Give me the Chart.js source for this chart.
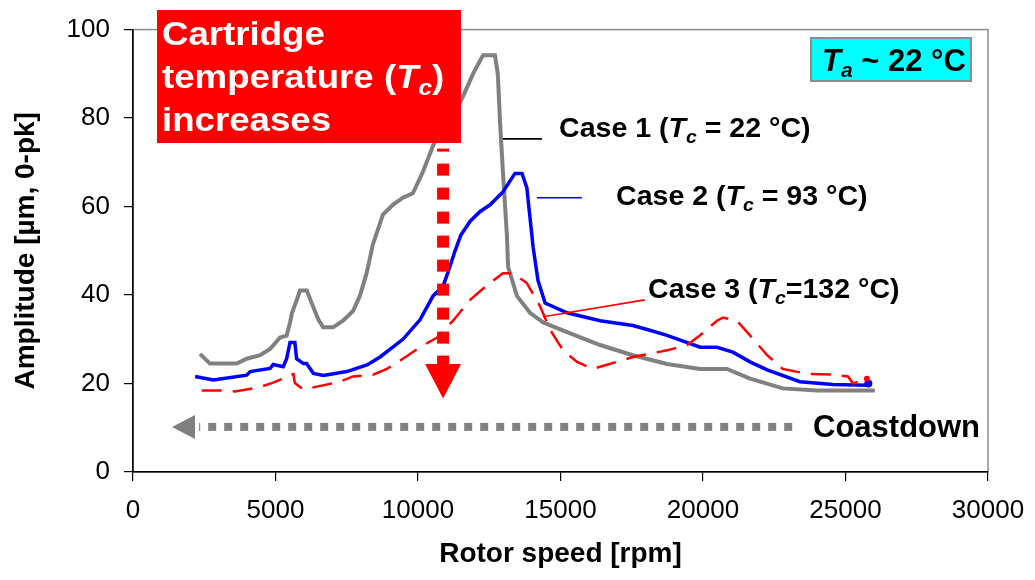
<!DOCTYPE html>
<html>
<head>
<meta charset="utf-8">
<script src="https://cdn.jsdelivr.net/npm/chart.js@4/dist/chart.umd.min.js"></script>
<style>
  html, body { margin: 0; padding: 0; background: #fff; }
  #wrap { width: 1035px; height: 580px; position: relative; }
</style>
</head>
<body>
<div id="wrap"><canvas id="ampChart"></canvas></div>
<script>
/* Rotor coastdown amplitude vs speed, three cartridge temperatures */

const FONT = '"Liberation Sans", Arial, Helvetica, sans-serif';

const xTicks = [0, 5000, 10000, 15000, 20000, 25000, 30000];
const yTicks = [0, 20, 40, 60, 80, 100];

// Case 1 (Tc = 22 °C)
const case1Speed = [2350, 2700, 3640, 3990, 4460, 4810, 5160, 5390, 5510, 5580, 5750, 5860, 6100, 6280, 6500, 6670,
  7020, 7370, 7720, 7960, 8200, 8420, 8770, 9120, 9470, 9820, 10170, 10530, 10770, 11230, 11580, 11930,
  12280, 12700, 12800, 12880, 12980, 13120, 13160, 13470, 13930, 14390, 15230, 16390, 17540, 18740,
  19900, 20840, 21650, 22800, 24000, 25160, 26030];
const case1Amp = [26.7, 24.5, 24.5, 25.6, 26.4, 27.8, 30.4, 30.8, 33.8, 36, 39, 41, 41, 38, 34.5, 32.7,
  32.7, 34.2, 36.4, 39.8, 45, 51.5, 58.2, 60.4, 62, 63, 67.8, 73.8, 76.7, 80.4, 84.9, 90,
  94.2, 94.2, 90, 78.9, 67.8, 53.5, 46.4, 39.8, 36, 33.8, 31.6, 28.7, 26.4, 24.4,
  23.3, 23.3, 21.1, 18.9, 18.4, 18.4, 18.4];

// Case 2 (Tc = 93 °C)
const case2Speed = [2180, 2820, 3990, 4110, 4810, 4920, 5270, 5390, 5510, 5680, 5740, 5980, 6090, 6330, 6680,
  7500, 8210, 8670, 9470, 10070, 10530, 10880, 11120, 11300, 11500, 11830, 12180, 12530, 12980, 13400,
  13650, 13820, 13930, 14040, 14210, 14460, 15230, 16390, 17540, 18040, 18740, 19900, 20490, 21050,
  21650, 22250, 23400, 24560, 25750, 25800];
const case2Amp = [21.6, 20.8, 21.9, 22.7, 23.4, 24.3, 23.8, 25.6, 29.3, 29.3, 25.6, 24.5, 24.5, 22.3, 21.8,
  22.7, 24.2, 26, 30, 34.4, 39.8, 42, 46.4, 50, 53.5, 56.7, 58.9, 60.4, 63.3, 67.5,
  67.5, 64.2, 57.5, 50.8, 43.3, 38.2, 36, 34.2, 33.1, 32.2, 30.9, 28.2, 28.2, 27.1,
  24.9, 23.1, 20.4, 19.8, 19.6, 20];

// Case 3 (Tc = 132 °C)
const case3Speed = [2410, 3110, 3580, 4460, 4870, 5160, 5390, 5630, 5680, 5980, 6450, 7260, 7720, 8420, 8910,
  9470, 10070, 10670, 11230, 11830, 12420, 12980, 13330, 13820, 14280, 14630, 15090, 15580, 16140,
  16980, 17540, 18740, 19440, 19900, 20490, 20700, 21190, 21650, 22250, 22800, 23650, 24560, 25090,
  25260, 25750];
const case3Amp = [18.4, 18.4, 18.2, 19.2, 20.1, 20.8, 21.9, 22.1, 20.1, 18.6, 19.3, 20.4, 21.6, 22, 23.3,
  25.6, 28.2, 30.4, 34.2, 38.9, 42.2, 44.9, 44.9, 42.7, 37.5, 32.2, 27.5, 24.9, 23.3,
  24.9, 26, 27.5, 28.7, 30.9, 34.2, 34.9, 34.2, 30.9, 26.4, 23.3, 22.2, 22, 21.6,
  20, 21.1];

const toPoints = (xs, ys) => xs.map((x, i) => ({ x: x, y: ys[i] }));
const endDot = (n, r) => ctx => ctx.dataIndex === n - 1 ? r : 0;

// mixed-style text: runs of { t, it (italic), sub (subscript) }
function drawRuns(ctx, x, y, runs, size, sx) {
    ctx.save();
    ctx.translate(x, y);
    ctx.scale(sx || 1, 1);
    ctx.textAlign = 'left';
    ctx.textBaseline = 'alphabetic';
    let cx = 0;
    runs.forEach(r => {
        const fs = r.sub ? Math.round(size * 0.68) : size;
        ctx.font = (r.it ? 'italic ' : '') + 'bold ' + fs + 'px ' + FONT;
        ctx.fillText(r.t, cx, r.sub ? size * 0.2 : 0);
        cx += ctx.measureText(r.t).width;
    });
    ctx.restore();
}

function line(ctx, x1, y1, x2, y2, color, w) {
    ctx.beginPath();
    ctx.strokeStyle = color;
    ctx.lineWidth = w;
    ctx.moveTo(x1, y1);
    ctx.lineTo(x2, y2);
    ctx.stroke();
}

const frame = {
    id: 'frame',
    beforeDraw(chart) {
        const { ctx, chartArea: a } = chart;
        ctx.save();
        ctx.fillStyle = '#fff';
        ctx.fillRect(0, 0, chart.width, chart.height);
        ctx.strokeStyle = '#8c8c8c';
        ctx.lineWidth = 1.5;
        ctx.strokeRect(a.left, a.top, a.right - a.left, a.bottom - a.top);
        ctx.restore();
    }
};

const notes = {
    id: 'notes',
    afterDatasetsDraw(chart) {
        const ctx = chart.ctx;
        const X = v => chart.scales.x.getPixelForValue(v);
        const Y = v => chart.scales.y.getPixelForValue(v);
        ctx.save();

        // leader lines to the case labels
        line(ctx, X(12980), Y(75.3), X(14350), Y(75.3), '#000', 1.6);
        line(ctx, X(14170), Y(62), X(15750), Y(62), '#0000ff', 1.6);
        line(ctx, X(14390), Y(35.1), X(17960), Y(38.9), '#ff0000', 1.6);

        // "temperature increases" arrow
        const ax = X(10880);
        ctx.save();
        ctx.setLineDash([12, 12]);
        ctx.lineDashOffset = 9;
        line(ctx, ax, Y(73.1), ax, Y(24.4), '#ff0000', 12);
        ctx.restore();
        ctx.beginPath();
        ctx.fillStyle = '#ff0000';
        ctx.moveTo(ax - 18, Y(24.4));
        ctx.lineTo(ax + 18, Y(24.4));
        ctx.lineTo(ax, Y(16.6));
        ctx.closePath();
        ctx.fill();

        // coastdown arrow
        const gy = Y(10.2);
        ctx.save();
        ctx.setLineDash([8, 8]);
        line(ctx, X(23130), gy, X(2320), gy, '#808080', 8);
        ctx.restore();
        ctx.beginPath();
        ctx.fillStyle = '#808080';
        ctx.moveTo(X(2175), gy - 12);
        ctx.lineTo(X(2175), gy + 12);
        ctx.lineTo(X(1370), gy);
        ctx.closePath();
        ctx.fill();

        ctx.fillStyle = '#000';
        drawRuns(ctx, 813, 437, [{ t: 'Coastdown' }], 31);

        // red caption box
        ctx.fillStyle = '#ff0000';
        ctx.fillRect(157, 10, 304, 133);
        ctx.fillStyle = '#fff';
        drawRuns(ctx, 162, 45, [{ t: 'Cartridge' }], 33, 1.11);
        drawRuns(ctx, 162, 88, [{ t: 'temperature (' }, { t: 'T', it: true }, { t: 'c', it: true, sub: true }, { t: ')' }], 33, 1.11);
        drawRuns(ctx, 162, 131, [{ t: 'increases' }], 33, 1.11);

        // case labels
        ctx.fillStyle = '#000';
        drawRuns(ctx, 559, 137, [{ t: 'Case 1 (' }, { t: 'T', it: true }, { t: 'c', it: true, sub: true }, { t: ' = 22 °C)' }], 28, 1.02);
        drawRuns(ctx, 616, 205, [{ t: 'Case 2 (' }, { t: 'T', it: true }, { t: 'c', it: true, sub: true }, { t: ' = 93 °C)' }], 28, 1.02);
        drawRuns(ctx, 648, 298, [{ t: 'Case 3 (' }, { t: 'T', it: true }, { t: 'c', it: true, sub: true }, { t: '=132 °C)' }], 28, 1.02);

        // ambient temperature box
        ctx.fillStyle = '#00ffff';
        ctx.fillRect(811, 38, 160, 43);
        ctx.strokeStyle = '#8c8c8c';
        ctx.lineWidth = 2;
        ctx.strokeRect(811, 38, 160, 43);
        ctx.fillStyle = '#000';
        drawRuns(ctx, 822, 71, [{ t: 'T', it: true }, { t: 'a', it: true, sub: true }, { t: ' ~ 22 °C' }], 31);

        ctx.restore();
    }
};

new Chart(document.getElementById('ampChart'), {
    type: 'line',
    data: {
        datasets: [
            {
                label: 'Case 1',
                data: toPoints(case1Speed, case1Amp),
                borderColor: '#808080',
                borderWidth: 4,
                pointRadius: 0,
                tension: 0,
                order: 3,
            },
            {
                label: 'Case 2',
                data: toPoints(case2Speed, case2Amp),
                borderColor: '#0000ff',
                backgroundColor: '#0000ff',
                borderWidth: 3.5,
                pointRadius: endDot(case2Speed.length, 4),
                pointBorderWidth: 0,
                tension: 0,
                order: 2,
            },
            {
                label: 'Case 3',
                data: toPoints(case3Speed, case3Amp),
                borderColor: '#ff0000',
                backgroundColor: '#ff0000',
                borderWidth: 2.5,
                borderDash: [20, 11],
                pointRadius: endDot(case3Speed.length, 3),
                pointBorderWidth: 0,
                tension: 0,
                order: 1,
            },
        ],
    },
    options: {
        responsive: true,
        maintainAspectRatio: false,
        animation: false,
        layout: { padding: { top: 22, right: 47, left: 0, bottom: 0 } },
        plugins: {
            legend: { display: false },
            tooltip: { enabled: false },
        },
        scales: {
            x: {
                type: 'linear',
                min: 0,
                max: 30000,
                afterFit: s => { s.height = 108; s.paddingRight = 0; s.paddingLeft = 0; },
                afterBuildTicks: s => { s.ticks = xTicks.map(v => ({ value: v })); },
                grid: { drawOnChartArea: false, drawTicks: true, tickLength: 9, color: '#000', lineWidth: 1.2 },
                border: { display: true, color: '#000', width: 1.6 },
                ticks: {
                    color: '#000', font: { family: FONT, size: 26 }, padding: 14,
                    maxRotation: 0, autoSkip: false, callback: v => String(v),
                },
                title: {
                    display: true,
                    text: 'Rotor speed [rpm]',
                    color: '#000',
                    font: { family: FONT, size: 28, weight: 'bold' },
                    padding: { top: 0, bottom: 9 },
                },
            },
            y: {
                min: 0,
                max: 100,
                afterFit: s => { s.width = 133; },
                afterBuildTicks: s => { s.ticks = yTicks.map(v => ({ value: v })); },
                grid: { drawOnChartArea: false, drawTicks: true, tickLength: 9, color: '#000', lineWidth: 1.2 },
                border: { display: true, color: '#000', width: 1.6 },
                ticks: { color: '#000', font: { family: FONT, size: 26 }, padding: 14, callback: v => String(v) },
                title: {
                    display: true,
                    text: 'Amplitude [µm, 0-pk]',
                    color: '#000',
                    font: { family: FONT, size: 28, weight: 'bold' },
                    padding: { top: 9, bottom: 0 },
                },
            },
        },
    },
    plugins: [frame, notes],
});
</script>
</body>
</html>
